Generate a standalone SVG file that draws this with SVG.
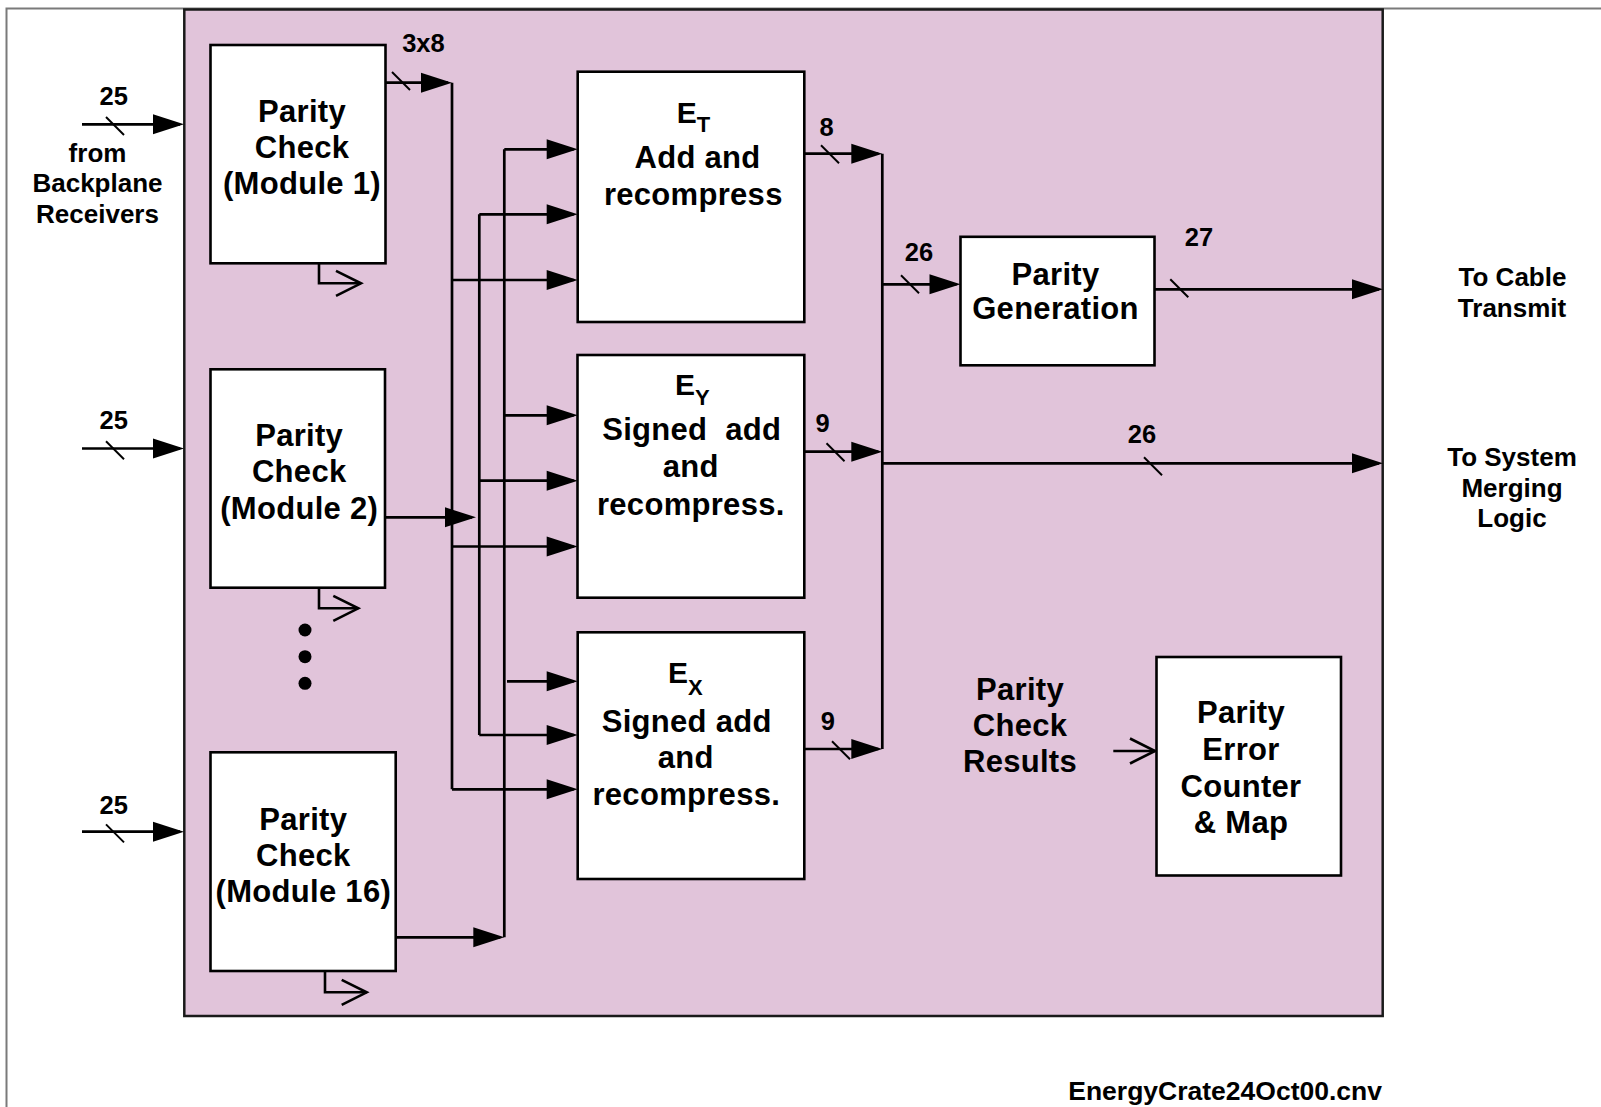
<svg xmlns="http://www.w3.org/2000/svg" width="1601" height="1107" viewBox="0 0 1601 1107">
<style>
text{font-family:"Liberation Sans",Arial,Helvetica,sans-serif;font-weight:bold;fill:#000}
.b{font-size:31px;letter-spacing:0.3px;text-anchor:middle}
.e{font-size:30px}
.sub{font-size:22px}
.l{font-size:25.5px;text-anchor:middle}
.s{font-size:26px;text-anchor:middle}
.box{fill:#fff;stroke:#000;stroke-width:2.6}
.w{fill:none;stroke:#000;stroke-width:2.7}
.wa{fill:none;stroke:#000;stroke-width:2.7;marker-end:url(#ah)}
.wo{fill:none;stroke:#000;stroke-width:2.6;marker-end:url(#oa)}
.sl{stroke:#000;stroke-width:2}
</style>
<defs>
<marker id="ah" markerUnits="userSpaceOnUse" viewBox="0 0 31 20" markerWidth="31" markerHeight="20" refX="27" refY="10" orient="auto" overflow="visible"><path d="M0,0 L31,10 L0,20 z" fill="#000"/></marker>
<marker id="oa" markerUnits="userSpaceOnUse" viewBox="0 0 26 25" markerWidth="26" markerHeight="25" refX="25" refY="12.5" orient="auto" overflow="visible"><path d="M0,0 L25,12.5 L0,25" fill="none" stroke="#000" stroke-width="2.6"/></marker>
</defs>
<rect width="1601" height="1107" fill="#fff"/>
<rect id="frame" x="6.5" y="8.5" width="1700" height="1200" fill="none" stroke="#7a7a7a" stroke-width="2"/>
<g id="crate"><rect x="184.3" y="9.5" width="1198.4" height="1006.5" fill="#e1c4da" stroke="#1a1a1a" stroke-width="2.5"/></g>

<g id="connectors">
<path class="wa" d="M82 124.3H180"/>
<path class="wa" d="M82 448.5H180"/>
<path class="wa" d="M82 831.7H180"/>
<path class="wa" d="M385.4 82.7H448"/>
<path class="w" d="M452 82.7V789.3"/>
<path class="wa" d="M452 280H573.7"/>
<path class="wa" d="M452 546.5H573.7"/>
<path class="wa" d="M452 789.3H573.7"/>
<path class="w" d="M479.3 214.3V735"/>
<path class="wa" d="M479.3 214.3H573.7"/>
<path class="wa" d="M479.3 480.7H573.7"/>
<path class="wa" d="M479.3 735H573.7"/>
<path class="wa" d="M385 517.3H472"/>
<path class="w" d="M504.3 149.3V937.3"/>
<path class="wa" d="M504.3 149.3H573.7"/>
<path class="wa" d="M504.3 415.3H573.7"/>
<path class="wa" d="M507 681.3H573.7"/>
<path class="wa" d="M395.7 937.3H500.3"/>
<path class="wa" d="M804.3 153.7H878.3"/>
<path class="wa" d="M804.3 451.7H878.3"/>
<path class="wa" d="M804.3 749H878.3"/>
<path class="w" d="M882.3 153.7V749"/>
<path class="wa" d="M882.3 284.3H956.5"/>
<path class="wa" d="M1154.5 289.3H1379"/>
<path class="wa" d="M882.3 463.3H1379"/>
<path class="wo" d="M319 263.3V283.3H361"/>
<path class="wo" d="M319 587.7V608.3H358.3"/>
<path class="wo" d="M325 971V992.3H366.7"/>
<path class="wo" d="M1113.3 751H1155"/>
<g class="sl">
<line x1="106" y1="117" x2="124" y2="135"/>
<line x1="106" y1="441.2" x2="124" y2="459.2"/>
<line x1="106" y1="824.4" x2="124" y2="842.4"/>
<line x1="392" y1="72" x2="410" y2="90"/>
<line x1="821" y1="145.2" x2="839" y2="163.2"/>
<line x1="826.5" y1="443.2" x2="844.5" y2="461.2"/>
<line x1="832" y1="741.2" x2="850" y2="759.2"/>
<line x1="901" y1="275.2" x2="919" y2="293.2"/>
<line x1="1170.3" y1="279.3" x2="1188.3" y2="297.3"/>
<line x1="1144" y1="457.3" x2="1162" y2="475.3"/>
</g>
</g>

<g id="labels">
<text class="l" x="113.8" y="104.5">25</text>
<text class="l" x="113.8" y="429">25</text>
<text class="l" x="113.8" y="813.5">25</text>
<text class="l" x="423.4" y="52">3x8</text>
<text class="l" x="826.7" y="136">8</text>
<text class="l" x="822.7" y="431.7">9</text>
<text class="l" x="827.8" y="730">9</text>
<text class="l" x="919" y="261">26</text>
<text class="l" x="1199" y="246">27</text>
<text class="l" x="1142" y="443">26</text>
</g>

<g id="source"><text class="s" x="97.5" y="162">from</text><text class="s" x="97.5" y="191.5">Backplane</text><text class="s" x="97.5" y="222.5">Receivers</text></g>

<g id="pc1"><rect class="box" x="210.5" y="45" width="175" height="218.3"/><text class="b" x="302" y="121.7">Parity</text><text class="b" x="302" y="158">Check</text><text class="b" x="302" y="194.3">(Module 1)</text></g>
<g id="pc2"><rect class="box" x="210.5" y="369.3" width="174.5" height="218.4"/><text class="b" x="299.2" y="446">Parity</text><text class="b" x="299.2" y="482.3">Check</text><text class="b" x="299.2" y="518.5">(Module 2)</text></g>
<g id="ellipsis"><circle cx="305" cy="630" r="6.5"/><circle cx="305" cy="656.7" r="6.5"/><circle cx="305" cy="683.3" r="6.5"/></g>
<g id="pc16"><rect class="box" x="210.5" y="752.3" width="185.2" height="218.7"/><text class="b" x="303.3" y="830">Parity</text><text class="b" x="303.3" y="866">Check</text><text class="b" x="303.3" y="902">(Module 16)</text></g>

<g id="et"><rect class="box" x="577.7" y="71.7" width="226.6" height="250.3"/><text class="e" x="676.7" y="123.3">E<tspan class="sub" dy="8.4">T</tspan></text><text class="b" x="697.5" y="168.3">Add and</text><text class="b" x="693.3" y="205">recompress</text></g>
<g id="ey"><rect class="box" x="577.5" y="355" width="226.8" height="242.7"/><text class="e" x="675" y="395">E<tspan class="sub" dy="10">Y</tspan></text><text class="b" x="691.7" y="440" xml:space="preserve">Signed  add</text><text class="b" x="690.8" y="476.7">and</text><text class="b" x="690.8" y="515">recompress.</text></g>
<g id="ex"><rect class="box" x="577.7" y="632.3" width="226.6" height="246.7"/><text class="e" x="668" y="683.3">E<tspan class="sub" dy="11.7">X</tspan></text><text class="b" x="686.7" y="731.7">Signed add</text><text class="b" x="685.8" y="768.3">and</text><text class="b" x="686.3" y="805">recompress.</text></g>

<g id="pgen"><rect class="box" x="960.5" y="236.8" width="194" height="128.5"/><text class="b" x="1055.5" y="284.5">Parity</text><text class="b" x="1055.5" y="319.3">Generation</text></g>
<g id="pcr"><text class="b" x="1020" y="700">Parity</text><text class="b" x="1020" y="736">Check</text><text class="b" x="1020" y="771.7">Results</text></g>
<g id="pec"><rect class="box" x="1156.5" y="657" width="184.5" height="218.5"/><text class="b" x="1241" y="723.3">Parity</text><text class="b" x="1241" y="760">Error</text><text class="b" x="1241" y="796.7">Counter</text><text class="b" x="1241" y="833.3">&amp; Map</text></g>

<g id="cable"><text class="s" x="1512.5" y="285.5">To Cable</text><text class="s" x="1512" y="317">Transmit</text></g>
<g id="merge"><text class="s" x="1512" y="466">To System</text><text class="s" x="1512" y="496.5">Merging</text><text class="s" x="1512" y="526.5">Logic</text></g>
<text x="1382" y="1100" font-size="26.5" text-anchor="end">EnergyCrate24Oct00.cnv</text>
</svg>
